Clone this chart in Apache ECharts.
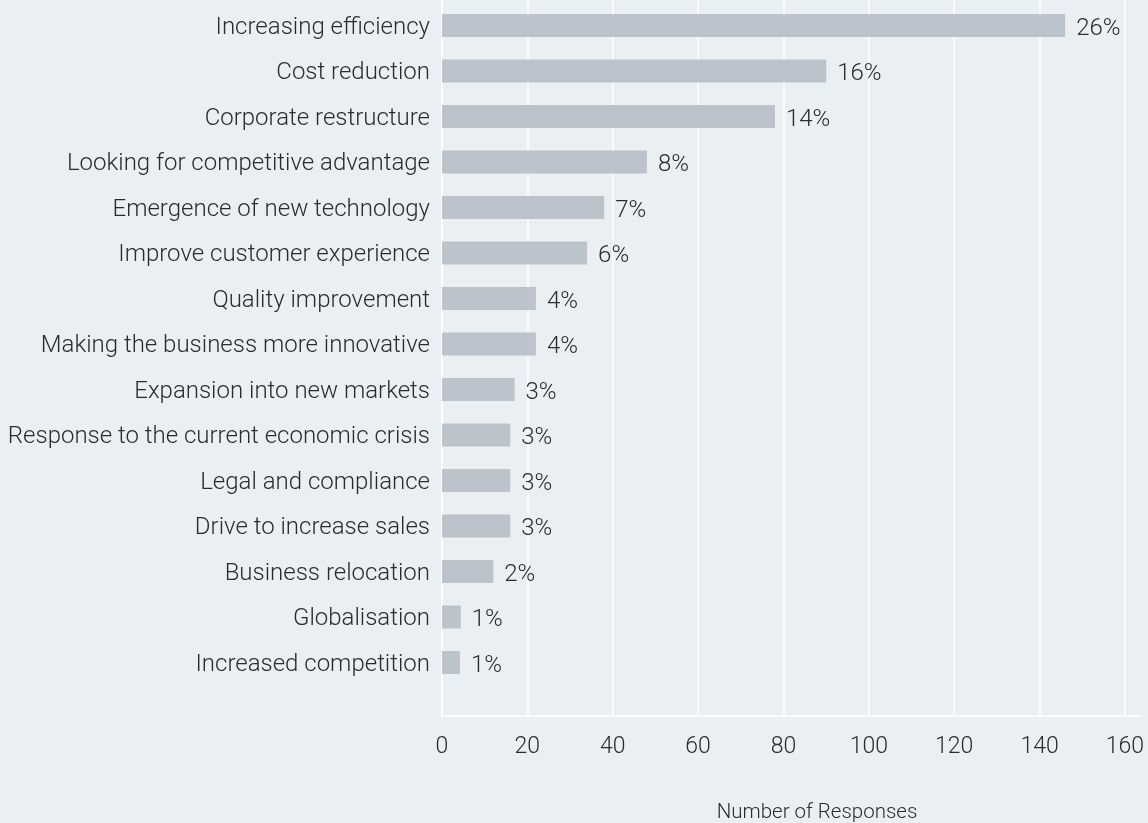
<!DOCTYPE html>
<html>
<head>
<meta charset="utf-8">
<script src="https://cdn.jsdelivr.net/npm/echarts@6/dist/echarts.min.js"></script>
<style>
html,body{margin:0;padding:0;background:#eceff2;}
#chart{width:1148px;height:823px;}
</style>
</head>
<body>
<div id="chart"></div>
<script>
const categories = [
  "Increasing efficiency",
  "Cost reduction",
  "Corporate restructure",
  "Looking for competitive advantage",
  "Emergence of new technology",
  "Improve customer experience",
  "Quality improvement",
  "Making the business more innovative",
  "Expansion into new markets",
  "Response to the current economic crisis",
  "Legal and compliance",
  "Drive to increase sales",
  "Business relocation",
  "Globalisation",
  "Increased competition"
];
const responses = [146, 90, 78, 48, 38, 34, 22, 22, 17, 16, 16, 16, 12, 4.4, 4.2];
const percentLabels = ["26%", "16%", "14%", "8%", "7%", "6%", "4%", "4%", "3%", "3%", "3%", "3%", "2%", "1%", "1%"];
const xTicks = { min: 0, max: 164, interval: 20 };
const axisName = "Number of Responses";

const FONT = "Roboto";
const TXT = "#2b2b2b";

const chart = echarts.init(document.getElementById('chart'), null, { renderer: 'canvas' });
chart.setOption({
  backgroundColor: '#eceff2',
  animation: false,
  grid: [
    { left: 442, right: 6, top: 2.75, height: 682.5, containLabel: false, outerBoundsMode: 'none' },
    { left: 442, right: 6, top: 0, height: 716, containLabel: false, outerBoundsMode: 'none' }
  ],
  xAxis: [
    {
      gridIndex: 0, type: 'value', min: xTicks.min, max: xTicks.max, interval: xTicks.interval,
      show: false
    },
    {
      gridIndex: 1, type: 'value', min: xTicks.min, max: xTicks.max, interval: xTicks.interval,
      axisLine: { show: true, lineStyle: { color: '#ffffff', width: 1.5 } },
      axisTick: { show: false },
      splitLine: { show: true, showMaxLine: false, lineStyle: { color: '#ffffff', width: 1.5 } },
      axisLabel: {
        show: true, showMaxLabel: false, margin: 20,
        color: TXT, fontFamily: FONT, fontWeight: 300, fontSize: 23
      },
      name: axisName,
      nameLocation: 'middle',
      nameGap: 86,
      nameTextStyle: { color: TXT, fontFamily: FONT, fontWeight: 300, fontSize: 20.5, padding: [0, 0, 0, 50] }
    }
  ],
  yAxis: [
    {
      gridIndex: 0, type: 'category', data: categories, inverse: true,
      axisLine: { show: false },
      axisTick: { show: false },
      splitLine: { show: false },
      axisLabel: {
        margin: 12, color: TXT, fontFamily: FONT, fontWeight: 300, fontSize: 24,
        formatter: (v) => '{c|' + v + '}',
        rich: { c: { color: TXT, fontFamily: FONT, fontWeight: 300, fontSize: 24, padding: [4, 0, 0, 0] } }
      }
    },
    {
      gridIndex: 1, type: 'value', min: 0, max: 1,
      axisLine: { show: true, lineStyle: { color: '#ffffff', width: 1.5 } },
      axisTick: { show: false },
      axisLabel: { show: false },
      splitLine: { show: false }
    }
  ],
  series: [
    {
      type: 'bar',
      xAxisIndex: 0, yAxisIndex: 0,
      data: responses,
      barWidth: 23,
      itemStyle: { color: '#bcc3ca' },
      label: {
        show: true, position: 'right', distance: 11, offset: [0, 3],
        color: TXT, fontFamily: FONT, fontWeight: 300, fontSize: 24,
        formatter: (p) => percentLabels[p.dataIndex]
      },
      silent: true
    }
  ]
});
</script>
</body>
</html>
